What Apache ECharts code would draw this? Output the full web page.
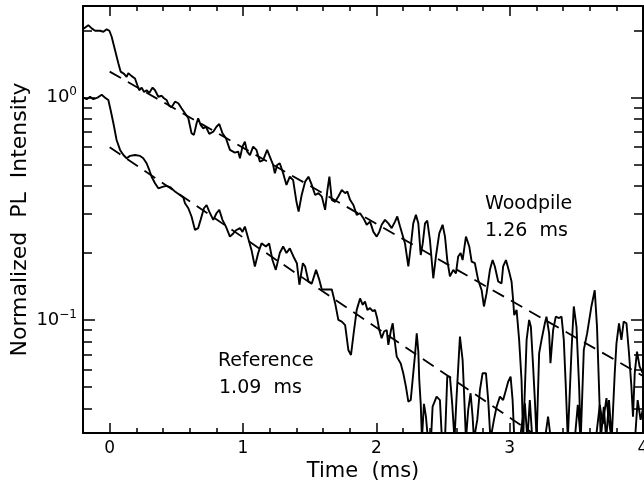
<!DOCTYPE html>
<html>
<head>
<meta charset="utf-8">
<script src="https://cdn.jsdelivr.net/npm/echarts@6/dist/echarts.min.js"></script>
<style>
html,body{margin:0;padding:0;background:#fff;}
#container{width:644px;height:489px;}
</style>
</head>
<body>
<div id="container"></div>
<script>
// time (ms) and normalized intensity
var woodT = [-0.197,-0.160,-0.135,-0.109,-0.072,-0.047,-0.022,-0.002,0.015,0.040,0.065,0.082,0.108,0.127,0.140,0.165,0.190,0.207,0.222,0.240,
	0.258,0.277,0.297,0.322,0.340,0.365,0.390,0.407,0.427,0.447,0.464,0.490,0.515,0.539,0.565,0.590,0.614,0.632,0.652,0.664,
	0.682,0.702,0.722,0.747,0.777,0.801,0.822,0.846,0.872,0.902,0.939,0.964,0.977,0.996,1.014,1.031,1.052,1.076,1.101,1.127,
	1.151,1.181,1.201,1.226,1.239,1.256,1.276,1.301,1.326,1.351,1.376,1.401,1.417,1.440,1.466,1.491,1.516,1.541,1.566,1.591,
	1.616,1.633,1.648,1.666,1.691,1.715,1.741,1.766,1.783,1.803,1.828,1.853,1.878,1.903,1.928,1.953,1.978,2.003,2.022,2.040,
	2.065,2.090,2.115,2.140,2.157,2.178,2.215,2.240,2.258,2.277,2.297,2.315,2.333,2.348,2.365,2.382,2.402,2.427,2.447,2.472,
	2.497,2.515,2.532,2.552,2.577,2.597,2.614,2.632,2.647,2.672,2.697,2.715,2.739,2.764,2.790,2.807,2.827,2.852,2.872,2.889,
	2.914,2.939,2.951,2.972,2.996,3.014,3.026,3.034,3.052,3.071,3.089,3.101,3.127,3.146,3.159,3.176,3.189,3.202,3.221,3.239,
	3.264,3.276,3.296,3.306,3.326,3.346,3.371,3.389,3.406,3.421,3.436,3.464,3.481,3.501,3.521,3.533,3.556,3.581,3.613,3.638,
	3.655,3.670,3.683,3.706,3.724,3.745,3.765,3.788,3.801,3.820,3.838,3.855,3.876,3.895,3.913,3.925,3.938,3.955,3.975,3.998];
var woodV = [2.04,2.12,2.05,2.00,2.00,1.98,2.03,2.00,1.88,1.64,1.43,1.31,1.28,1.24,1.29,1.25,1.22,1.14,1.08,1.11,
	1.06,1.08,1.05,1.11,1.08,1.01,1.02,0.994,0.976,0.918,0.905,0.959,0.944,0.896,0.851,0.808,0.692,0.680,0.767,0.808,
	0.754,0.728,0.740,0.687,0.703,0.740,0.761,0.692,0.657,0.582,0.566,0.572,0.534,0.602,0.634,0.572,0.552,0.602,0.582,0.515,
	0.524,0.582,0.543,0.498,0.457,0.498,0.507,0.457,0.405,0.441,0.426,0.340,0.307,0.365,0.419,0.441,0.405,0.365,0.372,0.359,
	0.313,0.384,0.441,0.347,0.340,0.359,0.384,0.372,0.378,0.347,0.329,0.297,0.302,0.287,0.268,0.277,0.249,0.237,0.249,0.268,
	0.282,0.272,0.259,0.277,0.292,0.263,0.221,0.174,0.214,0.272,0.297,0.272,0.196,0.221,0.272,0.280,0.229,0.154,0.193,0.245,
	0.268,0.237,0.186,0.157,0.168,0.162,0.193,0.200,0.186,0.237,0.214,0.183,0.180,0.151,0.136,0.115,0.132,0.168,0.186,0.174,
	0.149,0.146,0.174,0.186,0.165,0.149,0.123,0.105,0.111,0.0813,0.0537,0.029,0.0813,0.100,0.0933,0.0616,0.0436,0.029,0.0708,0.0813,
	0.0966,0.1035,0.0870,0.0639,0.0901,0.1035,0.102,0.1035,0.0813,0.0501,0.029,0.0733,0.115,0.0933,0.0501,0.029,0.0733,0.0870,0.115,0.136,
	0.0933,0.0501,0.029,0.0407,0.029,0.0436,0.029,0.0576,0.0785,0.0966,0.0813,0.0983,0.0966,0.0708,0.0501,0.0367,0.0576,0.0720,0.0616,0.0576];

var refT = [-0.197,-0.172,-0.147,-0.122,-0.092,-0.060,-0.034,-0.010,0.007,0.028,0.052,0.078,0.103,0.127,0.153,0.190,0.228,0.252,0.277,0.297,
	0.315,0.340,0.365,0.402,0.427,0.457,0.490,0.527,0.552,0.565,0.590,0.614,0.640,0.664,0.682,0.707,0.727,0.747,0.777,0.801,
	0.822,0.846,0.872,0.902,0.927,0.951,0.977,0.996,1.014,1.039,1.064,1.089,1.114,1.139,1.172,1.196,1.221,1.246,1.276,1.301,
	1.326,1.351,1.378,1.404,1.423,1.449,1.466,1.491,1.516,1.548,1.573,1.591,1.616,1.666,1.691,1.715,1.741,1.766,1.790,1.810,
	1.833,1.853,1.878,1.898,1.915,1.933,1.953,1.973,1.990,2.007,2.022,2.040,2.058,2.078,2.090,2.110,2.123,2.135,2.153,2.165,
	2.183,2.202,2.222,2.240,2.258,2.277,2.290,2.303,2.315,2.322,2.333,2.342,2.357,2.372,2.387,2.410,2.422,2.452,2.477,2.492,
	2.515,2.532,2.552,2.569,2.586,2.602,2.627,2.647,2.657,2.672,2.689,2.707,2.722,2.732,2.757,2.777,2.797,2.822,2.839,2.856,
	2.882,2.902,2.927,2.951,2.972,2.989,3.007,3.022,3.035,3.076,3.114,3.133,3.151,3.170,3.264,3.288,3.309,3.488,3.511,3.533,
	3.646,3.676,3.698,3.726,3.743,3.765,3.940,3.960,3.982,3.998];
var refV = [1.00,0.984,1.01,0.984,1.00,1.03,1.00,0.976,0.880,0.767,0.645,0.582,0.552,0.534,0.547,0.552,0.547,0.534,0.507,0.473,
	0.441,0.412,0.391,0.398,0.401,0.395,0.378,0.365,0.356,0.335,0.318,0.292,0.254,0.259,0.282,0.318,0.329,0.307,0.282,0.302,
	0.313,0.282,0.263,0.237,0.245,0.254,0.259,0.249,0.263,0.233,0.206,0.174,0.200,0.221,0.214,0.221,0.186,0.168,0.200,0.214,
	0.200,0.210,0.193,0.180,0.144,0.180,0.174,0.149,0.146,0.168,0.151,0.137,0.137,0.137,0.119,0.100,0.0983,0.0948,0.0733,0.0696,
	0.0901,0.111,0.125,0.117,0.121,0.111,0.113,0.1095,0.111,0.1014,0.0901,0.0828,0.0887,0.0901,0.0773,0.0901,0.0966,0.0828,0.0684,0.0696,
	0.0637,0.0576,0.0501,0.0429,0.0436,0.0576,0.0696,0.0870,0.0720,0.0537,0.0419,0.029,0.0419,0.0367,0.029,0.029,0.0407,0.0452,0.0436,0.029,
	0.029,0.0556,0.0556,0.0419,0.029,0.0452,0.0841,0.0661,0.0484,0.029,0.0394,0.0468,0.0367,0.029,0.0355,0.0484,0.0576,0.0576,0.0436,0.029,
	0.0355,0.0407,0.0452,0.0436,0.0484,0.0528,0.0556,0.0436,0.029,0.029,0.0422,0.029,0.0436,0.029,0.029,0.0367,0.029,0.029,0.0415,0.029,
	0.029,0.0415,0.034,0.0445,0.0355,0.029,0.029,0.0436,0.0355,0.0394];

// exponential fits (straight on the log axis), end points
var woodFitT = [0, 4];
var woodFitV = [1.31, 0.056];
var refFitT = [0, 3.3];
var refFitV = [0.598, 0.0275];

var xMajor = [0, 1, 2, 3, 4];
var xMinor = [-0.2, 0.2, 0.4, 0.6, 0.8, 1.2, 1.4, 1.6, 1.8, 2.2, 2.4, 2.6, 2.8, 3.2, 3.4, 3.6, 3.8];
var yMajor = [0.1, 1];
var yMinor = [0.04, 0.05, 0.06, 0.07, 0.08, 0.09, 0.2, 0.3, 0.4, 0.5, 0.6, 0.7, 0.8, 0.9, 2];

function pairs(t, v){
	var out = [];
	for(var i=0;i<t.length;++i){
		out.push([t[i], v[i]]);
	}
	return out;
}

var FONT = 'DejaVu Sans';
var myChart = echarts.init(document.getElementById('container'));

function xAx(pos, ticks, len, major){
	return {
		type: 'value', position: pos, min: -0.2, max: 4,
		splitLine: {show: false},
		axisLine: {show: major, onZero: false, lineStyle: {color: '#000', width: 2}},
		axisTick: {show: true, inside: true, length: len, customValues: ticks, lineStyle: {color: '#000', width: 1.5}},
		axisLabel: {show: major && pos == 'bottom', customValues: ticks, margin: 7, color: '#000',
			fontFamily: FONT, fontSize: 17, alignMinLabel: 'center', alignMaxLabel: 'center', hideOverlap: false},
		name: (major && pos == 'bottom') ? 'Time  (ms)' : '',
		nameLocation: 'middle', nameGap: 28, nameMoveOverlap: false,
		nameTextStyle: {color: '#000', fontFamily: FONT, fontSize: 21}
	};
}
function yAx(pos, ticks, len, major){
	return {
		type: 'log', logBase: 10, position: pos, min: 0.031, max: 2.585,
		splitLine: {show: false},
		axisLine: {show: major, onZero: false, lineStyle: {color: '#000', width: 2}},
		axisTick: {show: true, inside: true, length: len, customValues: ticks, lineStyle: {color: '#000', width: 1.5}},
		axisLabel: {show: major && pos == 'left', customValues: ticks, margin: 6, color: '#000',
			fontFamily: FONT, fontSize: 18,
			formatter: function(v){
				return v > 0.5 ? '10{sup|0}' : '10{sup|\u22121}';
			},
			rich: {sup: {fontFamily: FONT, fontSize: 12, color: '#000', padding: [0, 0, 11, 0]}}
		},
		name: (major && pos == 'left') ? 'Normalized  PL  Intensity' : '',
		nameLocation: 'middle', nameGap: 52, nameRotate: 90, nameMoveOverlap: false,
		nameTextStyle: {color: '#000', fontFamily: FONT, fontSize: 22}
	};
}

option = {
	backgroundColor: '#fff',
	animation: false,
	grid: {left: 83, right: 1, top: 6, bottom: 56, containLabel: false, outerBoundsMode: 'none'},
	xAxis: [
		xAx('bottom', xMajor, 10, true),
		xAx('bottom', xMinor, 5, false),
		xAx('top', xMajor, 10, true),
		xAx('top', xMinor, 5, false)
	],
	yAxis: [
		yAx('left', yMajor, 12, true),
		yAx('left', yMinor, 9, false),
		yAx('right', yMajor, 12, true),
		yAx('right', yMinor, 9, false)
	],
	series: [
		{name: 'Woodpile', type: 'line', data: pairs(woodT, woodV), showSymbol: false, symbol: 'none',
			lineStyle: {color: '#000', width: 1.9}, clip: true},
		{name: 'Reference', type: 'line', data: pairs(refT, refV), showSymbol: false, symbol: 'none',
			lineStyle: {color: '#000', width: 1.9}, clip: true},
		{name: 'Woodpile fit', type: 'line', data: pairs(woodFitT, woodFitV), showSymbol: false, symbol: 'none',
			lineStyle: {color: '#000', width: 1.8, type: [13, 8]}, clip: true},
		{name: 'Reference fit', type: 'line', data: pairs(refFitT, refFitV), showSymbol: false, symbol: 'none',
			lineStyle: {color: '#000', width: 1.8, type: [13, 8]}, clip: true}
	],
	graphic: [
		{type: 'text', left: 485, top: 195, style: {text: 'Woodpile', fill: '#000', font: '19px "DejaVu Sans"'}},
		{type: 'text', left: 485, top: 222, style: {text: '1.26  ms', fill: '#000', font: '19px "DejaVu Sans"'}},
		{type: 'text', left: 218, top: 352, style: {text: 'Reference', fill: '#000', font: '19px "DejaVu Sans"'}},
		{type: 'text', left: 219, top: 379, style: {text: '1.09  ms', fill: '#000', font: '19px "DejaVu Sans"'}}
	]
};
myChart.setOption(option);
</script>
</body>
</html>
